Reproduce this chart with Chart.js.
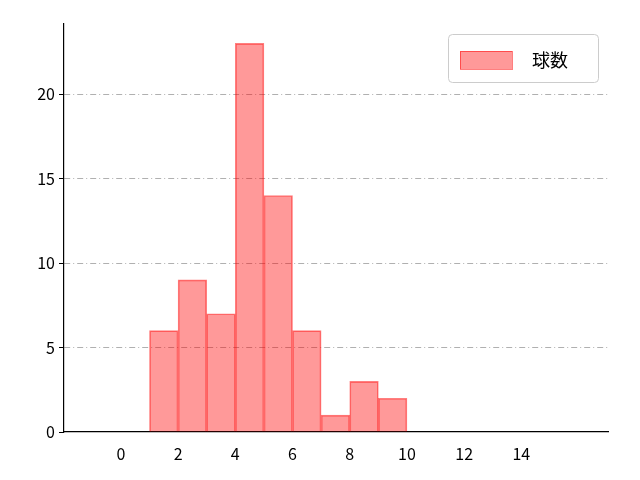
<!DOCTYPE html>
<html>
<head>
<meta charset="utf-8">
<script src="https://cdn.jsdelivr.net/npm/chart.js@4"></script>
<style>
  body { margin: 0; background: #fff; }
</style>
</head>
<body>
<canvas id="histChart" width="640" height="480"></canvas>
<script>
const binStarts = [1, 2, 3, 4, 5, 6, 7, 8, 9];
const counts = [6, 9, 7, 23, 14, 6, 1, 3, 2];
const xTicks = [0, 2, 4, 6, 8, 10, 12, 14];
const yTicks = [0, 5, 10, 15, 20];
const seriesLabel = '球数';

const font = { family: 'Noto Sans CJK JP, DejaVu Sans', size: 16 };

// legend drawn inside plot area like matplotlib
const innerLegend = {
  id: 'innerLegend',
  afterDraw(chart) {
    const ctx = chart.ctx;
    const a = chart.chartArea;
    const x = a.right - 160, y = a.top + 10, w = 150, h = 48;
    ctx.save();
    ctx.fillStyle = 'rgba(255,255,255,0.8)';
    ctx.strokeStyle = '#cccccc';
    ctx.lineWidth = 1;
    ctx.beginPath();
    ctx.roundRect(x + 0.5, y + 0.5, w, h, 4);
    ctx.fill();
    ctx.stroke();
    ctx.fillStyle = 'rgba(255,0,0,0.4)';
    ctx.strokeStyle = 'rgba(255,0,0,0.5)';
    ctx.fillRect(x + 12, y + 17, 52, 18);
    ctx.strokeRect(x + 12.5, y + 17.5, 52, 18);
    ctx.fillStyle = '#000';
    ctx.font = '18px "Noto Sans CJK JP"';
    ctx.textBaseline = 'middle';
    ctx.fillText(seriesLabel, x + 84, y + 26);
    ctx.restore();
  }
};

new Chart(document.getElementById('histChart'), {
  type: 'bar',
  data: {
    datasets: [{
      label: seriesLabel,
      data: binStarts.map((b, i) => ({ x: b + 0.5, y: counts[i] })),
      backgroundColor: 'rgba(255,0,0,0.4)',
      borderColor: 'rgba(255,0,0,0.5)',
      borderWidth: 1,
      barPercentage: 1,
      categoryPercentage: 1
    }]
  },
  options: {
    responsive: false,
    animation: false,
    layout: { padding: { top: 24, right: 32 } },
    plugins: { legend: { display: false }, tooltip: { enabled: false } },
    scales: {
      x: {
        type: 'linear',
        min: -0.8, max: 15.84,
        afterBuildTicks: s => { s.ticks = xTicks.map(v => ({ value: v })); },
        afterFit: s => { s.height = 48; },
        grid: { display: false, drawTicks: true },
        border: { color: '#000', width: 1.2 },
        ticks: { color: '#000', font, padding: 4 }
      },
      y: {
        min: 0, max: 24.15,
        afterBuildTicks: s => { s.ticks = yTicks.map(v => ({ value: v })); },
        afterFit: s => { s.width = 64; },
        grid: {
          color: ctx => ctx.tick && ctx.tick.value === 0 ? 'rgba(0,0,0,0)' : '#b0b0b0',
          tickColor: '#000', tickLength: 5
        },
        border: { color: '#000', width: 1.2, dash: [6, 3, 1, 3] },
        ticks: { color: '#000', font, padding: 4 }
      }
    }
  },
  plugins: [innerLegend]
});
</script>
</body>
</html>
